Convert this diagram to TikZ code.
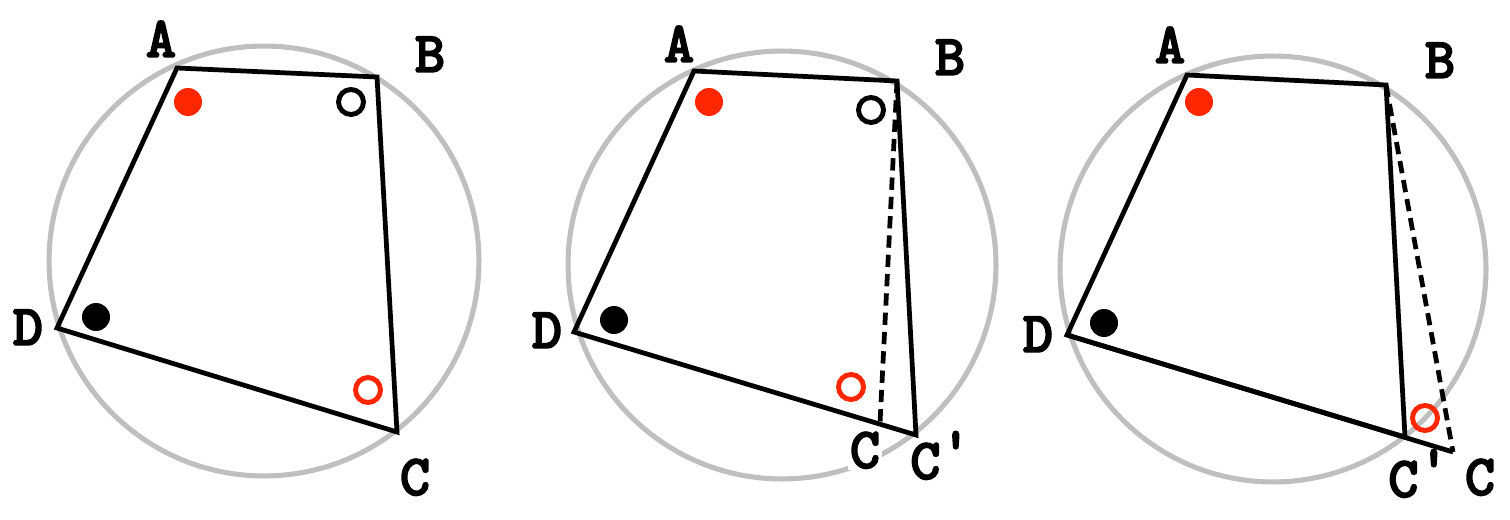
\documentclass[tikz,border=0pt]{standalone}
\usepackage{fontspec}
\newfontfamily\lblfont[FakeBold=2.5]{lmmonolt10-bold.otf}
\usetikzlibrary{positioning}
\definecolor{markred}{RGB}{255,38,0}
\begin{document}
\begin{tikzpicture}[x=0.02cm, y=-0.02cm,
    rim/.style={draw=black!25, line width=2.9pt},
    side/.style={line width=2.7pt},
    aux/.style={line width=2.7pt, dash pattern=on 7pt off 4pt},
    lbl/.style={font=\fontsize{33}{33}\lblfont, inner sep=1pt, anchor=base},
    fdot/.style={circle, fill=#1, minimum size=0.56cm, inner sep=0pt},
    odot/.style={circle, draw=#1, line width=2.8pt, minimum size=0.5cm, inner sep=0pt}
]
\useasboundingbox (0,0) rectangle (1510,520);

% left
\coordinate (o1) at (264,261);
\coordinate (a1) at (177,68);
\coordinate (b1) at (377,77);
\coordinate (c1) at (397,432);
\coordinate (d1) at (57,328);
\draw[rim] (o1) circle (4.3cm);
\draw[side] (a1) -- (b1) -- (c1) -- (d1) -- cycle;
\node[fdot=markred] (ma1) at (188,102) {};
\node[odot=black] (mb1) at (351,102) {};
\node[odot=markred] (mc1) at (368,390) {};
\node[fdot=black] (md1) at (96,317) {};
\node[lbl] (la1) at (161,57) {A};
\node[lbl] (lb1) at (430,72) {B};
\node[lbl] (lc1) at (415,495) {C};
\node[lbl] (ld1) at (28,345) {D};

% middle
\coordinate (o2) at (782,265);
\coordinate (a2) at (694,71);
\coordinate (b2) at (897,81);
\coordinate (c2) at (880,423);
\coordinate (c2p) at (916,435);
\coordinate (d2) at (574,332);
\draw[rim] (o2) circle (4.28cm);
\draw[side] (a2) -- (b2) -- (c2p) -- (d2) -- cycle;
\draw[aux] (b2) -- (c2);
\node[fdot=markred] (ma2) at (709,102) {};
\node[odot=black] (mb2) at (871,110) {};
\node[odot=markred] (mc2) at (851,387) {};
\node[fdot=black] (md2) at (614,320) {};
\node[lbl] (la2) at (679,62) {A};
\node[lbl] (lb2) at (950,75) {B};
\node[lbl, fill=white] (lc2) at (865,468) {C};
\node[lbl, anchor=base west] (lc2p) at (908,479) {C\raisebox{.2em}{'}};
\node[lbl] (ld2) at (547,348) {D};

% right
\coordinate (o3) at (1273,269);
\coordinate (a3) at (1187,75);
\coordinate (b3) at (1386,85);
\coordinate (c3) at (1453,452);
\coordinate (c3p) at (1405,437);
\coordinate (d3) at (1067,335);
\draw[rim] (o3) circle (4.26cm);
\draw[side] (c3p) -- (d3) -- (a3) -- (b3) -- (c3p);
\draw[side] (d3) -- (c3);
\draw[aux] (b3) -- (c3);
\node[fdot=markred] (ma3) at (1199,102) {};
\node[odot=markred] (mc3) at (1425,418) {};
\node[fdot=black] (md3) at (1104,323) {};
\node[lbl] (la3) at (1170,63) {A};
\node[lbl] (lb3) at (1440,78) {B};
\node[lbl, anchor=base west] (lc3p) at (1386,497) {C\raisebox{.2em}{'}};
\node[lbl] (lc3) at (1480,495) {C};
\node[lbl] (ld3) at (1038,352) {D};
\end{tikzpicture}
\end{document}
